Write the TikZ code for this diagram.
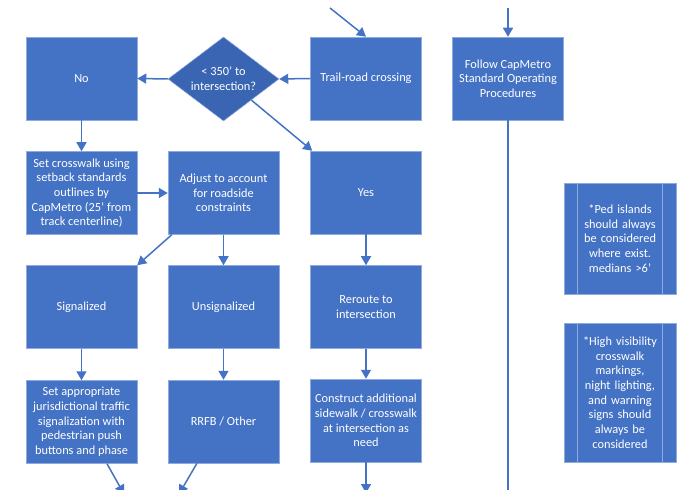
\documentclass[tikz,border=0pt]{standalone}
\usepackage{fontspec}
\setmainfont{Carlito}
\usetikzlibrary{shapes.geometric,arrows.meta,calc}
\definecolor{boxblue}{RGB}{68,114,196}
\definecolor{diablue}{RGB}{58,101,178}
\definecolor{edgeblue}{RGB}{143,170,220}
\tikzset{
  box/.style={rectangle,fill=boxblue,draw=edgeblue,line width=0.5bp,minimum width=111bp,minimum height=83bp,inner sep=0pt,align=center,text=white,font=\fontsize{12.4}{14.7}\selectfont},
  dec/.style={diamond,fill=diablue,draw=edgeblue,line width=0.5bp,minimum width=111bp,minimum height=84bp,aspect=1.32,inner sep=0pt,align=center,text=white,font=\fontsize{12.4}{14.7}\selectfont},
  note/.style={box,minimum width=112bp,text width=86bp},
  conn/.style={draw=boxblue,line width=1.5bp,-{Triangle[length=9bp,width=10bp]}},
  plain/.style={draw=boxblue,line width=1.5bp},
  inner/.style={draw=edgeblue,line width=0.6bp}
}
\begin{document}
\begin{tikzpicture}[x=1bp,y=-1bp]
\useasboundingbox (0,0) rectangle (697,490);
\clip (0,0) rectangle (697,490);
\node[box] (no) at (81.5,78.5) {No};
\node[dec] (dia) at (223.5,79) {< 350' to\\intersection?};
\node[box] (trail) at (366,78.5) {Trail-road crossing};
\node[box] (follow) at (508,78.5) {Follow CapMetro\\Standard Operating\\Procedures};
\node[box] (setcw) at (81.5,193) {Set crosswalk using\\setback standards\\outlines by\\CapMetro (25' from\\track centerline)};
\node[box] (adjust) at (223.5,193) {Adjust to account\\for roadside\\constraints};
\node[box] (yes) at (366,192.5) {Yes};
\node[box] (sig) at (81.5,307) {Signalized};
\node[box] (unsig) at (223.5,307) {Unsignalized};
\node[box] (reroute) at (366,307) {Reroute to\\intersection};
\node[box] (setapp) at (81.5,422) {Set appropriate\\jurisdictional traffic\\signalization with\\pedestrian push\\buttons and phase};
\node[box] (rrfb) at (223.5,421.5) {RRFB / Other};
\node[box] (construct) at (366,420.5) {Construct additional\\sidewalk / crosswalk\\at intersection as\\need};
\node[note,minimum height=111bp] (ped) at (620,238.5) {*Ped islands\\should always\\be considered\\where exist.\\medians >6'};
\node[note,minimum height=139bp] (hivis) at (620,392.5) {*High visibility\\crosswalk\\markings,\\night lighting,\\and warning\\signs should\\always be\\considered};
\draw[inner] ([xshift=14bp]ped.north west) -- ([xshift=14bp]ped.south west);
\draw[inner] ([xshift=-14bp]ped.north east) -- ([xshift=-14bp]ped.south east);
\draw[inner] ([xshift=14bp]hivis.north west) -- ([xshift=14bp]hivis.south west);
\draw[inner] ([xshift=-14bp]hivis.north east) -- ([xshift=-14bp]hivis.south east);
\coordinate (in1) at (330,8);
\coordinate (in2) at (508,8);
\coordinate (out0) at (508,492);
\coordinate (out1) at (124,494);
\coordinate (out2) at (179,494);
\coordinate (out3) at (366,493);
\draw[conn] (in1) -- (trail.north);
\draw[conn] (in2) -- (follow.north);
\draw[plain] (follow.south) -- (out0);
\draw[conn] (trail.west) -- (dia.east);
\draw[conn] (dia.west) -- (no.east);
\draw[conn] ($(dia.east)!0.5!(dia.south)$) -- ([xshift=2bp]yes.north west);
\draw[conn] (no.south) -- (setcw.north);
\draw[conn] (setcw.east) -- (adjust.west);
\draw[conn] ([xshift=4bp]adjust.south west) -- (sig.north east);
\draw[conn] (adjust.south) -- (unsig.north);
\draw[conn] (yes.south) -- (reroute.north);
\draw[conn] (sig.south) -- (setapp.north);
\draw[conn] (unsig.south) -- (rrfb.north);
\draw[conn] (reroute.south) -- (construct.north);
\draw[conn] ([xshift=25.5bp]setapp.south) -- (out1);
\draw[conn] ([xshift=-26.5bp]rrfb.south) -- (out2);
\draw[conn] (construct.south) -- (out3);
\end{tikzpicture}
\end{document}
